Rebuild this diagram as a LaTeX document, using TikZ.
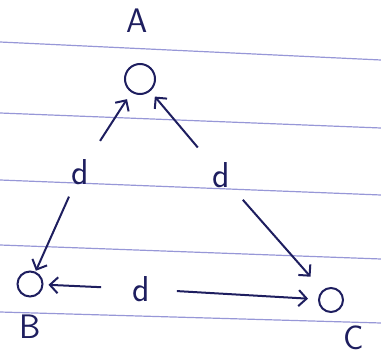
\documentclass[tikz,border=0pt]{standalone}
\usetikzlibrary{arrows.meta,positioning,calc}

\definecolor{ink}{RGB}{30,30,95}
\definecolor{rule}{RGB}{125,125,205}

\begin{document}
\begin{tikzpicture}[
    x=1pt, y=-1pt,
    vertex/.style={circle, draw=ink, line width=2pt, inner sep=0pt},
    vlabel/.style={text=ink, font=\sffamily\fontsize{34}{36}\selectfont, inner sep=0pt},
    dlabel/.style={text=ink, font=\sffamily\fontsize{36}{38}\selectfont, inner sep=0pt},
    arrow/.style={-{Straight Barb[length=8pt, width=16pt]}, ink, line width=2pt},
    ruling/.style={rule, line width=1.2pt, opacity=0.8}
]
    \useasboundingbox (0,0) rectangle (381,356);

    % ruled paper
    \draw[ruling] (0,42) -- (381,60);
    \draw[ruling] (0,113) -- (381,128);
    \draw[ruling] (0,180) -- (381,195);
    \draw[ruling] (0,245) -- (381,259);
    \draw[ruling] (0,312) -- (381,323);

    \node[vertex, minimum size=30pt] (a) at (140,79) {};
    \node[vertex, minimum size=25pt] (b) at (30,284) {};
    \node[vertex, minimum size=24pt] (c) at (331,300) {};

    \node[vlabel] (la) at (137,21) {A};
    \node[vlabel] (lb) at (30,327) {B};
    \node[vlabel] (lc) at (354,338) {C};

    \node[dlabel] (dab) at (80,172) {d};
    \node[dlabel] (dac) at (221,175) {d};
    \node[dlabel] (dbc) at (141,289) {d};

    \draw[arrow, shorten <=37pt, shorten >=8pt] (dab.center) -- (a);
    \draw[arrow, shorten <=27pt, shorten >=1pt] (dab.center) -- (b);
    \draw[arrow, shorten <=36pt, shorten >=7pt] (dac.center) -- (a);
    \draw[arrow, shorten <=33pt, shorten >=18pt] (dac.center) -- (c);
    \draw[arrow, shorten <=40pt, shorten >=5pt] (dbc.center) -- (b);
    \draw[arrow, shorten <=36pt, shorten >=10pt] (dbc.center) -- (c);
\end{tikzpicture}
\end{document}
